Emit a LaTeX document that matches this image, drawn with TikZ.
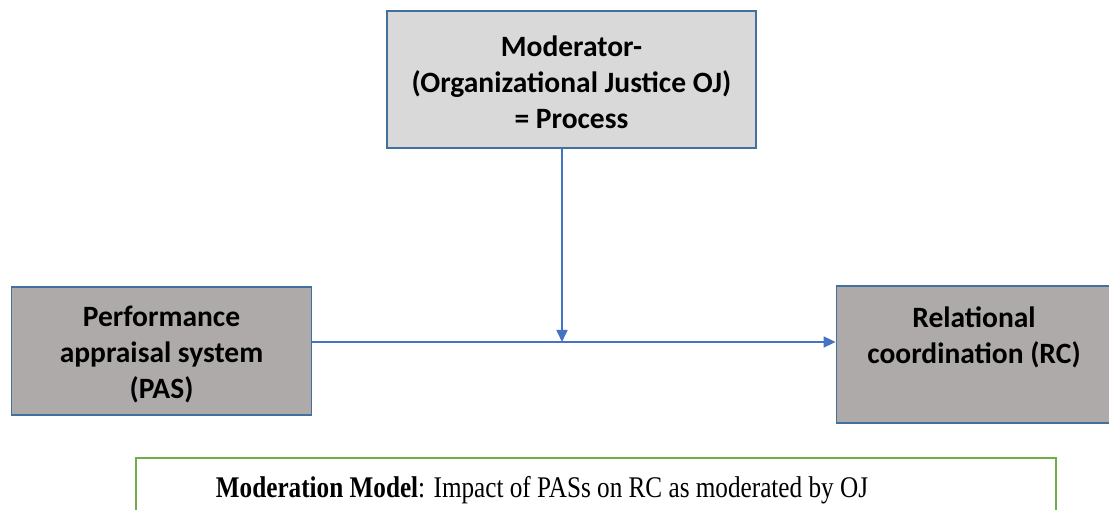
\documentclass[tikz,border=0pt]{standalone}
\usepackage{fontspec}
\setmainfont{Liberation Serif}
\newfontfamily\calib{Carlito}
\usetikzlibrary{arrows.meta}
\definecolor{boxborder}{RGB}{65,113,156}
\definecolor{lightfill}{RGB}{217,217,217}
\definecolor{darkfill}{RGB}{174,170,170}
\definecolor{arrowblue}{RGB}{68,114,196}
\definecolor{capgreen}{RGB}{112,173,71}
\tikzset{
  boxfont/.style={font=\calib\bfseries\fontsize{29.5}{36}\selectfont},
  varbox/.style={draw=boxborder, line width=1.8pt, inner sep=0pt},
  conn/.style={draw=arrowblue, line width=1.6pt, -{Triangle[length=12pt,width=11pt]}},
}
\begin{document}
\begin{tikzpicture}[x=1pt,y=-1pt]
\useasboundingbox (0,0) rectangle (1109,510);
\node[varbox, fill=lightfill, minimum width=369pt, minimum height=137pt] (mod) at (571.5,79.5) {};
\node[boxfont, align=center] (modt) at (571.5,82) {Moderator-\\(Organizational Justice OJ)\\= Process};
\node[varbox, fill=darkfill, minimum width=300pt, minimum height=128pt] (pas) at (161.5,351) {};
\node[boxfont, align=center] (past) at (161.5,354) {Performance\\appraisal system\\(PAS)};
\node[varbox, fill=darkfill, minimum width=275pt, minimum height=137pt] (rc) at (974,354.5) {};
\node[boxfont, align=center] (rct) at (974,337) {Relational\\coordination (RC)};
\draw[conn] (pas.east |- 0,342) -- (rc.west |- 0,342);
\coordinate (mid) at (562,342);
\draw[conn] (mod.south -| mid) -- (mid);
\draw[capgreen, line width=1.5pt] (136,515) -- (136,458) -- (1056,458) -- (1056,515);
\node[font=\fontsize{30}{34}\selectfont, anchor=base] (cap) at (542,497)
  {\scalebox{0.84}[1]{\textbf{Moderation Model}: Impact of PASs on RC as moderated by OJ}};
\end{tikzpicture}
\end{document}
